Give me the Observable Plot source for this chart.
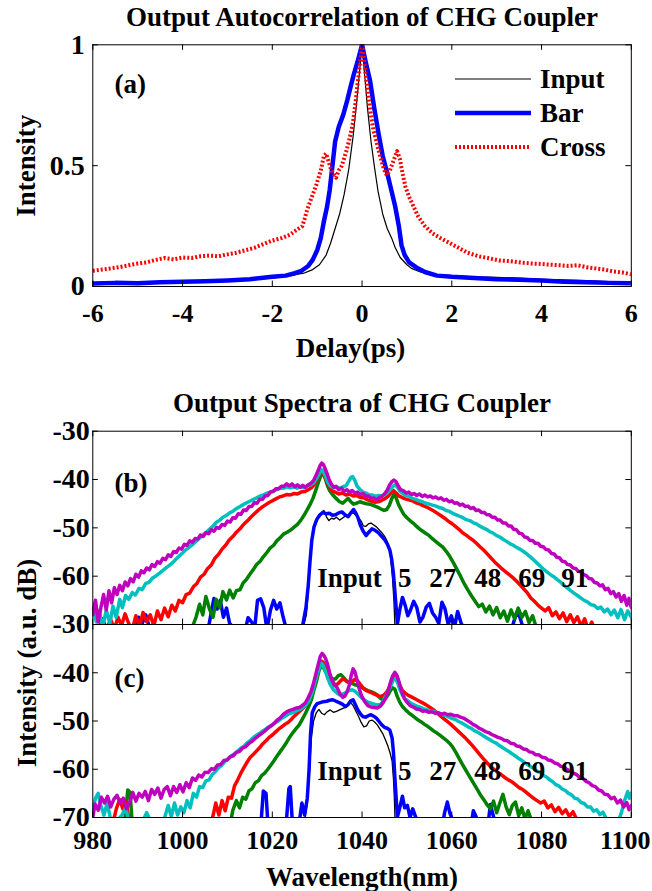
<!DOCTYPE html>
<html><head><meta charset="utf-8">
<script src="https://cdn.jsdelivr.net/npm/d3@7"></script>
<script src="https://cdn.jsdelivr.net/npm/@observablehq/plot@0.6"></script>
<style>
html,body{margin:0;padding:0;background:#fff;}
#chart{position:relative;width:652px;height:891px;overflow:hidden;font-family:"Liberation Serif","Times New Roman",serif;font-weight:bold;color:#000;}
.legend{position:absolute;left:455px;top:62px;}
.legend .row{display:flex;align-items:center;height:34px;}
.legend .row span{font-size:27px;margin-left:9px;line-height:34px;}
.legend svg{display:block;}
</style></head>
<body><div id="chart"></div>
<script>
// ---------- Panel (a): autocorrelation ----------
const acTitle = "Output Autocorrelation of CHG Coupler";
const acXLabel = "Delay(ps)";
const acYLabel = "Intensity";
const acXTicks = [-6, -4, -2, 0, 2, 4, 6];
const acYTicks = [0, 0.5, 1];
const acSeriesNames = ["Input", "Bar", "Cross"];
const acInput = [[-6,0.015],[-5,0.018],[-4,0.02],[-3,0.025],[-2.5,0.03],[-2,0.035],[-1.6,0.045],[-1.3,0.055],[-1.1,0.07],[-0.95,0.09],[-0.8,0.13],[-0.7,0.18],[-0.6,0.24],[-0.5,0.3],[-0.4,0.38],[-0.3,0.48],[-0.2,0.62],[-0.12,0.76],[-0.06,0.88],[0,1.0],[0.06,0.87],[0.12,0.74],[0.2,0.6],[0.28,0.49],[0.36,0.39],[0.46,0.3],[0.56,0.24],[0.66,0.2],[0.74,0.16],[0.85,0.12],[1.0,0.09],[1.1,0.075],[1.3,0.06],[1.6,0.05],[2,0.045],[2.5,0.04],[3,0.038],[3.5,0.035],[4,0.03],[4.5,0.027],[5,0.024],[5.5,0.02],[6,0.018]];
const acBar = [[-6,0.012],[-5.5,0.015],[-5,0.013],[-4.5,0.018],[-4,0.02],[-3.5,0.022],[-3,0.025],[-2.5,0.03],[-2,0.04],[-1.7,0.045],[-1.5,0.055],[-1.35,0.065],[-1.2,0.085],[-1.1,0.11],[-1.0,0.15],[-0.92,0.2],[-0.85,0.27],[-0.78,0.33],[-0.72,0.4],[-0.66,0.5],[-0.6,0.6],[-0.52,0.66],[-0.42,0.71],[-0.33,0.77],[-0.25,0.83],[-0.18,0.88],[-0.1,0.93],[0,1.0],[0.08,0.93],[0.18,0.85],[0.27,0.74],[0.37,0.63],[0.46,0.54],[0.56,0.47],[0.65,0.4],[0.74,0.33],[0.82,0.25],[0.88,0.17],[0.95,0.13],[1.05,0.1],[1.2,0.08],[1.4,0.06],[1.67,0.045],[2,0.04],[2.5,0.035],[3,0.03],[3.5,0.028],[4,0.025],[4.5,0.02],[5,0.018],[5.5,0.015],[6,0.013]];
const acCross = [[-6,0.065],[-5.8,0.07],[-5.6,0.075],[-5.4,0.08],[-5.2,0.088],[-5,0.095],[-4.8,0.1],[-4.6,0.11],[-4.4,0.118],[-4.2,0.112],[-4,0.12],[-3.8,0.118],[-3.6,0.125],[-3.4,0.128],[-3.2,0.125],[-3,0.133],[-2.8,0.14],[-2.6,0.15],[-2.4,0.16],[-2.2,0.175],[-2,0.19],[-1.8,0.2],[-1.6,0.215],[-1.45,0.235],[-1.33,0.25],[-1.28,0.28],[-1.22,0.32],[-1.12,0.37],[-1.02,0.42],[-0.92,0.48],[-0.85,0.54],[-0.8,0.55],[-0.75,0.52],[-0.7,0.49],[-0.65,0.47],[-0.58,0.45],[-0.52,0.48],[-0.45,0.5],[-0.35,0.56],[-0.28,0.61],[-0.2,0.68],[-0.14,0.77],[-0.08,0.87],[-0.03,0.95],[0,1.0],[0.04,0.95],[0.08,0.88],[0.13,0.8],[0.18,0.73],[0.25,0.65],[0.32,0.6],[0.4,0.54],[0.48,0.49],[0.55,0.46],[0.62,0.48],[0.7,0.52],[0.78,0.56],[0.84,0.53],[0.9,0.47],[0.97,0.41],[1.05,0.37],[1.15,0.33],[1.25,0.29],[1.4,0.25],[1.57,0.22],[1.75,0.2],[1.95,0.18],[2.15,0.16],[2.35,0.14],[2.6,0.125],[2.8,0.118],[3.05,0.108],[3.3,0.105],[3.6,0.098],[3.8,0.095],[4,0.093],[4.2,0.09],[4.4,0.088],[4.6,0.085],[4.8,0.088],[5,0.08],[5.2,0.075],[5.4,0.07],[5.6,0.062],[5.8,0.058],[6,0.05]];

// ---------- Panels (b),(c): spectra ----------
const spTitle = "Output Spectra of CHG Coupler";
const spXLabel = "Wavelength(nm)";
const spYLabel = "Intensity (a.u. dB)";
const spXTicks = [980, 1000, 1020, 1040, 1060, 1080];
const spXTickLast = [1100];
const spYTicksB = [-30, -40, -50, -60];
const spYTicksC = [-30, -40, -50, -60, -70];
const spLabels = ["Input", "5", "27", "48", "69", "91"];
const spLabelX = [1037.2, 1049.5, 1058, 1068, 1077.8, 1087.4];
const spLabelY = -60.5;

const bIn = [[1026.5,-72],[1027.6,-68],[1028.1,-62],[1028.5,-56.5],[1028.9,-52.3],[1029.4,-49.6],[1030,-48],[1030.5,-47.8],[1031,-46.8],[1031.5,-46.4],[1032.1,-47.8],[1032.6,-48.5],[1033.2,-48],[1033.7,-48.2],[1034.3,-47.8],[1035,-48.4],[1035.6,-48],[1036.2,-47.6],[1036.8,-47.4],[1037.4,-47.1],[1038,-46.9],[1038.6,-47.4],[1039.2,-47.9],[1039.8,-48.6],[1040.3,-49.6],[1040.8,-49.7],[1041.4,-49.2],[1042,-49],[1042.6,-49.4],[1043.2,-49.8],[1043.8,-50.4],[1044.4,-51],[1045,-51.7],[1045.5,-52.6],[1046,-53.8],[1046.4,-56.4],[1046.8,-60.5],[1047.1,-65],[1047.4,-72]];
const b5 = [[980,-72],[981.5,-70.5],[982.2,-68.8],[983,-71],[989.5,-71],[990.2,-68.5],[991,-69.8],[991.8,-68],[992.6,-70.5],[993.5,-72],[1005.5,-72],[1006.3,-68],[1007,-64.6],[1007.7,-66.8],[1008.4,-65],[1009.1,-68.5],[1009.8,-66.6],[1010.5,-69.8],[1011.2,-70.5],[1012,-72],[1014,-71],[1014.6,-68.6],[1015.4,-69.5],[1016.1,-70.5],[1016.7,-65],[1017.4,-64.7],[1018.1,-66.5],[1018.8,-71],[1019.6,-67],[1020.3,-65],[1021,-66.8],[1021.7,-65.5],[1022.4,-68.4],[1023,-70.5],[1024,-72],[1026,-72],[1026.8,-70],[1027.5,-66.5],[1028,-62],[1028.4,-57],[1028.8,-52.6],[1029.3,-49.8],[1029.9,-48.3],[1030.6,-47.3],[1031.3,-46.8],[1032,-47.1],[1032.7,-47],[1033.4,-47.4],[1034.1,-47.3],[1034.8,-46.9],[1035.5,-46.7],[1036.2,-47.3],[1036.9,-47.7],[1037.5,-46.9],[1038.1,-46.2],[1038.6,-46.9],[1039.1,-47.9],[1039.6,-49.4],[1040.2,-50.6],[1040.9,-51.6],[1041.5,-50.9],[1042.2,-50.2],[1042.9,-50.5],[1043.6,-51],[1044.3,-51.7],[1045,-52.4],[1045.6,-53.3],[1046.2,-54.6],[1046.6,-56.5],[1047,-59.5],[1047.3,-63],[1047.6,-66.5],[1047.9,-69.8],[1048.4,-67],[1049,-64.4],[1049.6,-66],[1050.2,-68.2],[1050.8,-67],[1051.5,-65.2],[1052.2,-66.5],[1052.9,-69.5],[1053.6,-68.4],[1054.3,-66.4],[1055,-65.6],[1055.7,-67.6],[1056.4,-68.5],[1057.1,-69.8],[1057.8,-65.4],[1058.5,-66.8],[1059.2,-70],[1059.9,-68.2],[1060.6,-70.5],[1061.3,-67.3],[1062,-69.5],[1062.7,-71],[1064,-72],[1073,-72],[1073.8,-69.5],[1074.5,-67.4],[1075.2,-68.6],[1076,-71],[1077,-72]];
const b27 = [[1002,-71],[1003,-68.5],[1003.8,-65.8],[1004.5,-68],[1005.2,-64.2],[1006,-66.8],[1006.8,-68.5],[1007.5,-64.8],[1008.3,-66.5],[1009,-63.2],[1009.8,-64.9],[1010.5,-62.9],[1011.3,-64.5],[1012,-63],[1012.8,-62.8],[1013.5,-61.4],[1014.3,-60.6],[1015,-59.6],[1015.8,-58.6],[1016.5,-57.6],[1017.3,-56.9],[1018,-56],[1018.8,-55.1],[1019.5,-54.2],[1020.3,-53.6],[1021,-52.7],[1021.8,-52],[1022.5,-51.3],[1023.3,-50.9],[1024,-50.5],[1024.8,-49.9],[1025.6,-49.3],[1026.3,-48.5],[1027,-47.5],[1027.7,-46.4],[1028.4,-45.2],[1029.1,-43.8],[1029.7,-42.2],[1030.3,-40.5],[1030.8,-39.3],[1031.3,-38.6],[1031.8,-39.8],[1032.3,-41.3],[1032.8,-42.3],[1033.5,-43.2],[1034.2,-43.9],[1035,-44.6],[1035.7,-44.9],[1036.3,-44.4],[1036.9,-43.9],[1037.5,-44.6],[1038.1,-45.1],[1038.8,-44.9],[1039.5,-44.6],[1040.2,-44.8],[1041,-45],[1041.8,-45.1],[1042.6,-45.4],[1043.4,-45.7],[1044.2,-46.1],[1044.9,-46.4],[1045.5,-46.2],[1046.1,-45.3],[1046.6,-44],[1047.1,-43.1],[1047.6,-43.8],[1048.1,-45.1],[1048.7,-46.2],[1049.3,-47.2],[1050,-47.9],[1050.8,-48.6],[1051.6,-49.2],[1052.4,-49.9],[1053.2,-50.5],[1054,-51],[1054.8,-51.5],[1055.6,-52.2],[1056.4,-52.8],[1057.2,-53.4],[1058,-54],[1058.8,-54.9],[1059.6,-56],[1060.4,-57.3],[1061.2,-58.7],[1062,-60.1],[1062.8,-61.6],[1063.6,-62.9],[1064.4,-64.1],[1065.2,-65.2],[1066,-66.3],[1066.8,-65.8],[1067.6,-67.4],[1068.4,-66.2],[1069.2,-68],[1070,-66.5],[1070.8,-68.6],[1071.6,-67.2],[1072.4,-69.3],[1073.2,-67],[1074,-68.8],[1074.8,-66.6],[1075.6,-68.5],[1076.4,-67.3],[1077.2,-69.6],[1078,-68.2],[1078.8,-70.5],[1080,-72]];
const b48 = [[980,-67.5],[980.5,-65.6],[981.2,-68.2],[982,-70.5],[983,-71],[984,-69],[984.8,-71],[985.6,-68.5],[986.4,-70.2],[987.2,-67.8],[988,-69.8],[988.8,-71],[989.6,-68.2],[990.4,-70.5],[991.2,-67.5],[992,-69.4],[992.8,-68],[993.6,-70.3],[994.4,-67.2],[995.2,-69],[996,-66.6],[996.8,-68.4],[997.6,-66],[998.4,-67.2],[999.2,-65],[1000,-65.5],[1000.8,-63.8],[1001.6,-63.5],[1002.4,-62.2],[1003.2,-61.5],[1004,-60.2],[1004.8,-59.6],[1005.6,-58.4],[1006.4,-57.7],[1007.2,-56.3],[1008,-55.5],[1008.8,-54.4],[1009.6,-53.6],[1010.4,-52.5],[1011.2,-51.8],[1012,-50.9],[1012.8,-50.2],[1013.6,-49.3],[1014.4,-48.6],[1015.2,-47.8],[1016,-47.1],[1016.8,-46.4],[1017.6,-45.8],[1018.4,-45.3],[1019.2,-44.8],[1020,-44.4],[1020.8,-44],[1021.6,-43.6],[1022.4,-43.4],[1023.2,-43.1],[1024,-43.2],[1024.8,-42.9],[1025.6,-43],[1026.4,-42.6],[1027.2,-42.5],[1028,-42.1],[1028.7,-41.7],[1029.3,-41.1],[1029.9,-40],[1030.5,-38.9],[1031,-38.4],[1031.5,-38.9],[1032,-40],[1032.6,-41.3],[1033.3,-42.3],[1034,-42.6],[1034.8,-43],[1035.6,-42.8],[1036.4,-43.2],[1037.2,-43],[1038,-43.4],[1038.8,-43.3],[1039.6,-43.7],[1040.4,-43.8],[1041.2,-44.2],[1042,-44.4],[1042.8,-44.7],[1043.6,-44.6],[1044.4,-44.3],[1045.2,-43.9],[1045.9,-43.4],[1046.5,-42.7],[1047,-42.3],[1047.6,-42.8],[1048.2,-43.4],[1048.9,-43.7],[1049.6,-44],[1050.4,-44.2],[1051.2,-44.4],[1052,-44.8],[1052.8,-45],[1053.6,-45.4],[1054.4,-45.7],[1055.2,-46.1],[1056,-46.5],[1056.8,-47],[1057.6,-47.5],[1058.4,-48],[1059.2,-48.6],[1060,-49.1],[1060.8,-49.7],[1061.6,-50.3],[1062.4,-51],[1063.2,-51.5],[1064,-52.1],[1064.8,-52.6],[1065.6,-53.3],[1066.4,-54],[1067.2,-54.7],[1068,-55.5],[1068.8,-56.3],[1069.6,-57.1],[1070.4,-57.8],[1071.2,-58.5],[1072,-59.1],[1072.8,-59.7],[1073.6,-60.3],[1074.4,-61],[1075.2,-61.8],[1076,-62.6],[1076.8,-63.4],[1077.6,-64.5],[1078.4,-65.2],[1079.2,-66],[1080,-66.6],[1080.8,-67.2],[1081.6,-66.5],[1082.4,-68.2],[1083.2,-67.4],[1084,-68.8],[1084.8,-67.6],[1085.6,-69.4],[1086.4,-68],[1087.2,-69.6],[1088,-68.4],[1088.8,-70.3],[1089.6,-68.8],[1090.4,-71],[1091.2,-69.5],[1092,-71.5],[1093,-72]];
const b69 = [[980,-66.5],[980.8,-69.5],[981.5,-67.5],[982.2,-70.5],[983,-67],[983.8,-69.8],[984.5,-66.2],[985.2,-68.5],[986,-64.8],[986.6,-66.5],[987.3,-64],[988,-64.8],[988.8,-63.4],[989.5,-63.9],[990.3,-62.5],[991,-62.8],[991.8,-61.5],[992.5,-61.3],[993.3,-60.4],[994,-60],[994.8,-59.4],[995.5,-58.9],[996.3,-58.3],[997,-57.8],[997.8,-57.2],[998.5,-56.5],[999.3,-55.8],[1000,-55.2],[1000.8,-54.5],[1001.5,-54],[1002.3,-53.4],[1003,-52.8],[1003.8,-52.1],[1004.5,-51.5],[1005.3,-50.9],[1006,-50.3],[1006.8,-49.6],[1007.5,-48.9],[1008.3,-48.4],[1009,-47.8],[1009.8,-47.4],[1010.5,-46.9],[1011.3,-46.5],[1012,-46],[1012.8,-45.6],[1013.5,-45.2],[1014.3,-44.8],[1015,-44.5],[1015.8,-44.1],[1016.5,-43.8],[1017.3,-43.4],[1018,-43.2],[1018.8,-42.8],[1019.5,-42.6],[1020.3,-42.3],[1021,-42.1],[1021.8,-41.8],[1022.5,-41.8],[1023.3,-41.5],[1024,-41.7],[1024.8,-41.5],[1025.5,-41.8],[1026.3,-41.5],[1027,-41.7],[1027.8,-41.3],[1028.6,-41.1],[1029.2,-40.7],[1029.8,-39.9],[1030.4,-38.9],[1030.9,-37.9],[1031.3,-38.2],[1031.8,-39.2],[1032.3,-40.4],[1032.9,-41.3],[1033.6,-41.7],[1034.3,-41.5],[1035,-41.8],[1035.7,-41.5],[1036.4,-41.3],[1037,-40.4],[1037.5,-39.6],[1037.9,-39.4],[1038.4,-40.2],[1038.9,-41.4],[1039.5,-42],[1040.2,-42.6],[1040.9,-42.8],[1041.6,-43.2],[1042.3,-43.2],[1043,-43.5],[1043.7,-43.3],[1044.4,-43.4],[1045.1,-43.1],[1045.7,-42.6],[1046.3,-42.1],[1046.9,-41.4],[1047.4,-41.1],[1047.9,-41.6],[1048.5,-42.5],[1049.1,-42.9],[1049.8,-43.3],[1050.5,-43.5],[1051.2,-43.9],[1052,-44.1],[1052.7,-44.4],[1053.5,-44.6],[1054.2,-44.9],[1055,-45.1],[1055.7,-45.3],[1056.5,-45.5],[1057.2,-45.8],[1058,-46],[1058.7,-46.4],[1059.5,-46.6],[1060.2,-47],[1061,-47.3],[1061.7,-47.6],[1062.5,-47.9],[1063.2,-48.3],[1064,-48.5],[1064.7,-48.9],[1065.5,-49.2],[1066.2,-49.6],[1067,-50],[1067.7,-50.3],[1068.5,-50.8],[1069.2,-51.1],[1070,-51.6],[1070.7,-51.9],[1071.5,-52.4],[1072.2,-52.8],[1073,-53.3],[1073.7,-53.6],[1074.5,-54.1],[1075.2,-54.4],[1076,-54.9],[1076.7,-55.4],[1077.5,-56],[1078.2,-56.6],[1079,-57.3],[1079.7,-57.9],[1080.5,-58.6],[1081.2,-59.1],[1082,-59.7],[1082.7,-60.1],[1083.5,-60.7],[1084.2,-61.2],[1085,-61.9],[1085.7,-62.4],[1086.5,-63],[1087.2,-63.5],[1088,-64],[1088.7,-64.5],[1089.5,-65],[1090.2,-65.3],[1091,-65.9],[1091.7,-66],[1092.5,-66.7],[1093.2,-66.4],[1094,-67.4],[1094.7,-66.8],[1095.5,-68],[1096.2,-67],[1097,-68.6],[1097.7,-66.9],[1098.5,-69],[1099.2,-67.2],[1100,-68.5]];
const b91 = [[980,-68],[980.6,-65],[981.2,-69.5],[981.8,-66.5],[982.4,-63.8],[983,-67],[983.6,-63],[984.2,-65.5],[984.8,-62.4],[985.4,-63.8],[986,-61.9],[986.6,-63],[987.2,-61.2],[987.8,-62],[988.4,-60.5],[989,-61.2],[989.6,-59.6],[990.2,-60.2],[990.8,-58.9],[991.4,-59.3],[992,-58.3],[992.6,-58.7],[993.2,-57.6],[993.8,-58],[994.4,-57],[995,-57.3],[995.6,-56.3],[996.2,-56.6],[996.8,-55.6],[997.4,-55.9],[998,-54.9],[998.6,-55.1],[999.2,-54.2],[999.8,-54.4],[1000.4,-53.4],[1001,-53.6],[1001.6,-52.7],[1002.2,-53],[1002.8,-52.2],[1003.4,-52.3],[1004,-51.5],[1004.6,-51.8],[1005.2,-51],[1005.8,-51.2],[1006.4,-50.4],[1007,-50.7],[1007.6,-49.9],[1008.2,-50.1],[1008.8,-49.3],[1009.4,-49.5],[1010,-48.6],[1010.6,-48.8],[1011.2,-47.9],[1011.8,-48],[1012.4,-47.1],[1013,-47.2],[1013.6,-46.3],[1014.2,-46.4],[1014.8,-45.6],[1015.4,-45.6],[1016,-44.8],[1016.6,-44.9],[1017.2,-44.1],[1017.8,-44.1],[1018.4,-43.4],[1019,-43.3],[1019.6,-42.6],[1020.2,-42.5],[1020.8,-41.9],[1021.4,-41.9],[1022,-41.4],[1022.6,-41.4],[1023.2,-40.9],[1023.8,-41.3],[1024.4,-40.9],[1025,-41.5],[1025.6,-41.1],[1026.2,-41.6],[1026.8,-41.2],[1027.4,-41.6],[1028,-41.1],[1028.6,-40.8],[1029.2,-40.2],[1029.7,-39.2],[1030.2,-38.2],[1030.6,-37.2],[1031,-36.6],[1031.4,-36.9],[1031.8,-37.8],[1032.2,-38.8],[1032.7,-40.1],[1033.2,-41],[1033.7,-41.6],[1034.2,-41.4],[1034.8,-42.1],[1035.4,-41.8],[1036,-42.4],[1036.6,-42.1],[1037.2,-42.6],[1037.8,-42.3],[1038.4,-42.8],[1039,-42.6],[1039.6,-43.1],[1040.2,-42.9],[1040.8,-43.5],[1041.4,-43.4],[1042,-43.9],[1042.6,-43.8],[1043.2,-44.2],[1043.8,-43.8],[1044.4,-43.5],[1045,-43],[1045.6,-42.2],[1046.1,-41.2],[1046.6,-40.5],[1047.1,-40.1],[1047.6,-40.5],[1048.1,-41.4],[1048.6,-42.1],[1049.2,-42.3],[1049.8,-42.8],[1050.4,-42.6],[1051,-43.1],[1051.6,-42.9],[1052.2,-43.3],[1052.8,-43],[1053.4,-43.5],[1054,-43.2],[1054.6,-43.6],[1055.2,-43.4],[1055.8,-43.8],[1056.4,-43.6],[1057,-44],[1057.6,-43.8],[1058.2,-44.3],[1058.8,-44.1],[1059.4,-44.6],[1060,-44.4],[1060.6,-44.9],[1061.2,-44.8],[1061.8,-45.3],[1062.4,-45.1],[1063,-45.6],[1063.6,-45.5],[1064.2,-46],[1064.8,-45.8],[1065.4,-46.4],[1066,-46.3],[1066.6,-46.8],[1067.2,-46.8],[1067.8,-47.3],[1068.4,-47.3],[1069,-47.8],[1069.6,-47.8],[1070.2,-48.4],[1070.8,-48.4],[1071.4,-49],[1072,-49],[1072.6,-49.6],[1073.2,-49.6],[1073.8,-50.3],[1074.4,-50.4],[1075,-51.1],[1075.6,-51.2],[1076.2,-51.9],[1076.8,-52],[1077.4,-52.6],[1078,-52.6],[1078.6,-53.2],[1079.2,-53.2],[1079.8,-53.8],[1080.4,-53.9],[1081,-54.5],[1081.6,-54.6],[1082.2,-55.3],[1082.8,-55.4],[1083.4,-56.1],[1084,-56.2],[1084.6,-56.9],[1085.2,-57],[1085.8,-57.6],[1086.4,-57.7],[1087,-58.3],[1087.6,-58.4],[1088.2,-59],[1088.8,-59.1],[1089.4,-59.7],[1090,-59.9],[1090.6,-60.5],[1091.2,-60.6],[1091.8,-61.3],[1092.4,-61.4],[1093,-62],[1093.6,-61.8],[1094.2,-62.8],[1094.8,-62.5],[1095.4,-63.6],[1096,-63.2],[1096.6,-64.3],[1097.2,-63.6],[1097.8,-65.2],[1098.4,-64],[1099,-66],[1099.5,-64.6],[1100,-66.5]];

const cIn = [[1027,-72],[1027.8,-67],[1028.3,-60],[1028.7,-53.5],[1029.2,-50],[1029.8,-48.3],[1030.4,-47.6],[1031,-48.4],[1031.6,-48.7],[1032.2,-48.1],[1032.9,-47.7],[1033.6,-48.2],[1034.3,-48],[1035,-47.7],[1035.7,-47.4],[1036.4,-47.2],[1037,-46.6],[1037.5,-46.2],[1038,-46.8],[1038.6,-47.9],[1039.2,-49],[1039.8,-50.3],[1040.4,-51.2],[1041,-51],[1041.6,-50],[1042.2,-49.8],[1042.8,-50.2],[1043.4,-50.8],[1044,-51.7],[1044.6,-52.6],[1045.2,-53.9],[1045.8,-55.3],[1046.3,-56.8],[1046.7,-58.3],[1047,-62],[1047.2,-66],[1047.4,-72]];
const c5 = [[1016,-72],[1017.5,-71],[1018,-64.5],[1018.6,-65],[1019,-71],[1019.5,-72],[1022.5,-72],[1023.2,-70],[1023.7,-64],[1024,-63.6],[1024.4,-70],[1025,-72],[1026,-71],[1026.6,-67],[1027.2,-69.5],[1027.8,-66],[1028.2,-60],[1028.5,-53],[1028.9,-48.3],[1029.5,-47],[1030,-46.4],[1030.7,-46.2],[1031.4,-46],[1032.1,-45.9],[1032.8,-45.7],[1033.5,-45.6],[1034.2,-45.9],[1034.9,-46.2],[1035.6,-46.5],[1036.3,-47],[1036.9,-46.6],[1037.5,-45.8],[1038,-45.6],[1038.5,-46.6],[1039,-47.6],[1039.6,-48.5],[1040.2,-49.1],[1040.8,-49.2],[1041.4,-48.9],[1042,-48.7],[1042.6,-49],[1043.2,-49.4],[1043.8,-50.1],[1044.4,-50.8],[1045,-51.3],[1045.6,-51.5],[1046.2,-51.9],[1046.7,-53.5],[1047,-56.5],[1047.3,-61.5],[1047.6,-66],[1047.9,-69.8],[1048.4,-68],[1049,-65.6],[1049.5,-68],[1050.1,-67.5],[1050.7,-70],[1051.3,-68.2],[1051.9,-69.8],[1052.5,-71],[1054,-72],[1057.8,-72],[1058.4,-69],[1059,-66.8],[1059.6,-69.2],[1060.2,-70.5],[1061,-72],[1064.2,-72],[1064.8,-68.6],[1065.4,-69.8],[1066,-72],[1068,-72],[1068.6,-67.3],[1069.2,-69.5],[1070,-72]];
const c27 = [[987,-72],[987.4,-68],[987.8,-64.3],[988.3,-64.8],[988.7,-70],[989.2,-72],[1010.5,-72],[1011.2,-68.5],[1012,-66.5],[1012.7,-68],[1013.4,-65.8],[1014.1,-66.2],[1014.8,-64.5],[1015.5,-64],[1016.2,-62.8],[1016.9,-62.4],[1017.6,-61.3],[1018.3,-60.8],[1019,-60],[1019.7,-59.1],[1020.4,-58.2],[1021.1,-57.2],[1021.8,-56.3],[1022.5,-55.4],[1023.2,-54.4],[1023.9,-53.3],[1024.6,-52.4],[1025.3,-51.6],[1026,-50.8],[1026.7,-49.6],[1027.4,-48.4],[1028.1,-47],[1028.7,-45.6],[1029.3,-43.5],[1029.9,-41.6],[1030.4,-39.6],[1030.9,-38.3],[1031.3,-38.7],[1031.8,-39.7],[1032.3,-40.3],[1032.9,-41],[1033.5,-41.3],[1034.1,-41.3],[1034.7,-40.6],[1035.3,-40.4],[1035.9,-41],[1036.5,-41.7],[1037.1,-41.9],[1037.8,-42.2],[1038.5,-42.5],[1039.2,-42.7],[1039.9,-43],[1040.6,-43.4],[1041.3,-43.7],[1042,-43.9],[1042.7,-44.2],[1043.4,-44.6],[1044,-45.2],[1044.6,-45.6],[1045.2,-45.3],[1045.8,-44.6],[1046.3,-43.7],[1046.8,-43.1],[1047.3,-43.4],[1047.8,-44.8],[1048.4,-46.1],[1049,-47],[1049.7,-47.7],[1050.4,-48.3],[1051.1,-48.8],[1051.8,-49.3],[1052.5,-49.8],[1053.2,-50.2],[1053.9,-50.7],[1054.6,-51.1],[1055.3,-51.6],[1056,-52.1],[1056.7,-52.5],[1057.4,-53],[1058.1,-53.5],[1058.8,-54],[1059.5,-54.6],[1060.2,-55.4],[1060.9,-56.5],[1061.6,-57.7],[1062.3,-58.9],[1063,-60],[1063.7,-61.1],[1064.4,-62.2],[1065.1,-63.3],[1065.8,-64.4],[1066.5,-65.5],[1067.2,-66.4],[1067.9,-67.4],[1068.6,-68.2],[1069.3,-66.6],[1070,-69],[1070.7,-67],[1071.4,-65.2],[1072.1,-67.8],[1072.8,-69.4],[1073.5,-67.5],[1074.2,-66.8],[1074.9,-69.6],[1075.6,-68],[1076.3,-70.3],[1077,-68.6],[1077.7,-70.5],[1078.5,-72]];
const c48 = [[984.5,-71],[985.3,-68],[986,-66.3],[986.7,-68.2],[987.4,-66.8],[988,-70],[988.6,-72],[1006,-72],[1006.7,-70],[1007.4,-67],[1008.1,-69.5],[1008.8,-66.5],[1009.5,-68.6],[1010.2,-65.8],[1010.9,-66],[1011.6,-63.4],[1012.3,-62.2],[1013,-60.8],[1013.7,-59.6],[1014.4,-58.5],[1015.1,-57.5],[1015.8,-56.9],[1016.5,-56.2],[1017.2,-55.5],[1017.9,-54.7],[1018.6,-54.1],[1019.3,-53.4],[1020,-52.9],[1020.7,-52.3],[1021.4,-51.7],[1022.1,-51.2],[1022.8,-50.7],[1023.5,-50.3],[1024.2,-49.7],[1024.9,-49],[1025.6,-48.4],[1026.3,-47.8],[1027,-47.2],[1027.7,-46.5],[1028.3,-45.4],[1028.9,-43.6],[1029.5,-41.8],[1030,-40.3],[1030.5,-38.7],[1031,-37.6],[1031.4,-37.9],[1031.9,-39.1],[1032.4,-40.6],[1033,-41.9],[1033.6,-42.7],[1034.2,-42.6],[1034.8,-42.1],[1035.4,-41.5],[1036,-41.3],[1036.6,-41.8],[1037.2,-42.1],[1037.8,-41.8],[1038.4,-41.4],[1039,-41.7],[1039.6,-42.4],[1040.2,-43.1],[1040.8,-43.6],[1041.5,-43.9],[1042.2,-44.2],[1042.9,-44.5],[1043.6,-44.8],[1044.3,-44.9],[1044.9,-44.6],[1045.5,-44],[1046,-43.2],[1046.5,-41.9],[1047,-40.7],[1047.4,-40.3],[1047.9,-41.2],[1048.4,-42.6],[1049,-43.7],[1049.6,-44.2],[1050.3,-44.7],[1051,-45],[1051.8,-45.4],[1052.6,-45.8],[1053.4,-46.2],[1054.2,-46.6],[1055,-47.1],[1055.8,-47.6],[1056.6,-48.2],[1057.4,-48.9],[1058.2,-49.5],[1059,-50.1],[1059.8,-50.7],[1060.6,-51.4],[1061.4,-52.1],[1062.2,-52.8],[1063,-53.5],[1063.8,-54.3],[1064.6,-55.1],[1065.4,-56],[1066.2,-56.9],[1067,-57.8],[1067.8,-58.6],[1068.6,-59.4],[1069.4,-60],[1070.2,-60.6],[1071,-61.1],[1071.8,-61.7],[1072.6,-62.2],[1073.4,-62.6],[1074.2,-63.2],[1075,-63.8],[1075.8,-64.2],[1076.6,-64.8],[1077.4,-65.4],[1078.2,-66],[1079,-66.5],[1079.8,-67],[1080.6,-66.6],[1081.4,-68],[1082.2,-67.4],[1083,-68.8],[1083.8,-67.9],[1084.6,-69.2],[1085.4,-68.4],[1086.2,-69.8],[1087,-68.8],[1087.8,-70.3],[1088.6,-72]];
const c69 = [[980,-68.4],[980.6,-66],[981.2,-65],[981.8,-67.6],[982.5,-69.5],[983.2,-67],[984,-70.5],[985,-71],[986.5,-69.5],[987.3,-68],[988,-70.5],[989,-71],[991,-71],[992,-69],[993,-71],[995,-71],[996,-70],[996.8,-67.5],[997.5,-69.8],[998.2,-67],[998.9,-69.5],[999.6,-67.8],[1000.3,-69],[1001,-66.5],[1001.7,-68],[1002.4,-65],[1003.1,-65.8],[1003.8,-63.6],[1004.5,-63.8],[1005.2,-62.4],[1005.9,-62.2],[1006.6,-61.1],[1007.3,-60.5],[1008,-59.7],[1008.7,-59.2],[1009.4,-58.4],[1010.1,-57.9],[1010.8,-57.3],[1011.5,-56.8],[1012.2,-56.3],[1012.9,-55.7],[1013.6,-55.3],[1014.3,-54.6],[1015,-54.1],[1015.7,-53.5],[1016.4,-53],[1017.1,-52.6],[1017.8,-52.1],[1018.5,-51.7],[1019.2,-51.2],[1019.9,-50.9],[1020.6,-50.4],[1021.3,-50],[1022,-49.5],[1022.7,-49.1],[1023.4,-48.7],[1024.1,-48.4],[1024.8,-48.2],[1025.5,-47.8],[1026.2,-47.6],[1026.9,-47.1],[1027.6,-46.6],[1028.2,-45.7],[1028.8,-44.3],[1029.4,-42.4],[1030,-40.3],[1030.5,-38.9],[1030.9,-38],[1031.3,-38.4],[1031.8,-39.6],[1032.3,-41],[1032.9,-42.4],[1033.6,-43.5],[1034.3,-44.1],[1035,-44.6],[1035.7,-44.4],[1036.4,-44.1],[1037.1,-43.7],[1037.8,-43.5],[1038.5,-43.9],[1039.2,-44.5],[1039.9,-45.2],[1040.6,-45.7],[1041.3,-46.1],[1042,-46.3],[1042.7,-46.5],[1043.4,-46.7],[1044.1,-46.6],[1044.7,-45.9],[1045.3,-44.8],[1045.8,-43.8],[1046.3,-42.9],[1046.9,-41.6],[1047.4,-41.2],[1047.9,-42],[1048.4,-43.4],[1049,-44.6],[1049.6,-45.4],[1050.3,-45.9],[1051,-46.4],[1051.7,-46.7],[1052.4,-47],[1053.1,-47.2],[1053.8,-47.5],[1054.5,-47.7],[1055.2,-47.9],[1055.9,-48],[1056.6,-48.3],[1057.3,-48.4],[1058,-48.7],[1058.7,-48.9],[1059.4,-49.2],[1060.1,-49.5],[1060.8,-49.7],[1061.5,-50.1],[1062.2,-50.4],[1062.9,-50.8],[1063.6,-51.2],[1064.3,-51.5],[1065,-52],[1065.7,-52.3],[1066.4,-52.7],[1067.1,-53.1],[1067.8,-53.5],[1068.5,-53.9],[1069.2,-54.3],[1069.9,-54.6],[1070.6,-55.1],[1071.3,-55.5],[1072,-55.9],[1072.7,-56.3],[1073.4,-56.8],[1074.1,-57.2],[1074.8,-57.7],[1075.5,-58.1],[1076.2,-58.6],[1076.9,-59],[1077.6,-59.5],[1078.3,-59.8],[1079,-60.4],[1079.7,-60.7],[1080.4,-61.3],[1081.1,-61.6],[1081.8,-62.2],[1082.5,-62.6],[1083.2,-63.2],[1083.9,-63.5],[1084.6,-64.1],[1085.3,-64.4],[1086,-65],[1086.7,-65.3],[1087.4,-66],[1088.1,-66.2],[1088.8,-66.9],[1089.5,-67.1],[1090.2,-67.8],[1090.9,-67.8],[1091.6,-68.7],[1092.3,-68.4],[1093,-69.4],[1093.7,-68.9],[1094.4,-70.2],[1095.2,-71],[1097,-71],[1097.8,-69],[1098.5,-66.5],[1099.2,-64.6],[1099.6,-66],[1100,-65]];
const c91 = [[980,-70],[980.5,-67.2],[981.2,-68.5],[981.9,-65.8],[982.6,-67],[983.3,-65.6],[984,-67.8],[984.7,-66.2],[985.4,-65.4],[986.1,-67],[986.8,-66],[987.5,-68.2],[988.2,-67],[988.9,-64.8],[989.6,-66.6],[990.3,-65],[991,-65.8],[991.7,-64.6],[992.4,-66.5],[993.1,-64.2],[993.8,-65.2],[994.5,-63.9],[995.2,-66],[995.9,-64.2],[996.6,-63.6],[997.3,-65.5],[998,-63.6],[998.7,-64.8],[999.4,-63.2],[1000.1,-64.7],[1000.8,-62.8],[1001.5,-63.8],[1002.2,-61.8],[1002.9,-62.3],[1003.6,-61.2],[1004.3,-61.6],[1005,-60.6],[1005.7,-60.7],[1006.4,-59.9],[1007.1,-60],[1007.8,-59.1],[1008.5,-59],[1009.2,-58.2],[1009.9,-58.1],[1010.6,-57.4],[1011.3,-57.2],[1012,-56.5],[1012.7,-56.3],[1013.4,-55.6],[1014.1,-55.3],[1014.8,-54.6],[1015.5,-54.2],[1016.2,-53.6],[1016.9,-53.1],[1017.6,-52.6],[1018.3,-52.1],[1019,-51.5],[1019.7,-51],[1020.4,-50.5],[1021.1,-49.8],[1021.8,-49.3],[1022.5,-48.6],[1023.2,-48.1],[1023.9,-47.8],[1024.6,-47.6],[1025.3,-47.3],[1026,-47.2],[1026.7,-46.8],[1027.4,-46.2],[1028,-45.2],[1028.6,-44],[1029.2,-42.1],[1029.7,-40.3],[1030.2,-38.4],[1030.7,-36.6],[1031.1,-36],[1031.5,-36.4],[1031.9,-37.1],[1032.3,-38.2],[1032.8,-40.1],[1033.3,-41.5],[1033.9,-42.4],[1034.5,-43.2],[1035.1,-44.4],[1035.7,-45.1],[1036.2,-44.8],[1036.7,-43.9],[1037.2,-42.5],[1037.6,-40.5],[1038,-39.2],[1038.4,-39.8],[1038.8,-41.2],[1039.3,-43.1],[1039.9,-44.8],[1040.6,-46],[1041.3,-46.8],[1042,-47.1],[1042.7,-47.2],[1043.4,-47.3],[1044.1,-46.9],[1044.7,-46.2],[1045.3,-45.2],[1045.8,-43.8],[1046.3,-42.1],[1046.8,-40.7],[1047.3,-39.9],[1047.8,-40.6],[1048.3,-42.1],[1048.8,-43.8],[1049.4,-45.3],[1050,-46.1],[1050.7,-46.8],[1051.4,-47.1],[1052.1,-47.5],[1052.8,-47.6],[1053.5,-48],[1054.2,-47.9],[1054.9,-48.2],[1055.6,-48.1],[1056.3,-48.4],[1057,-48.3],[1057.7,-48.6],[1058.4,-48.4],[1059.1,-48.7],[1059.8,-48.6],[1060.5,-48.9],[1061.2,-48.9],[1061.9,-49.2],[1062.6,-49.4],[1063.3,-49.8],[1064,-50.2],[1064.7,-50.7],[1065.4,-51],[1066.1,-51.5],[1066.8,-51.8],[1067.5,-52.2],[1068.2,-52.4],[1068.9,-52.8],[1069.6,-53.1],[1070.3,-53.4],[1071,-53.6],[1071.7,-54],[1072.4,-54.1],[1073.1,-54.6],[1073.8,-54.7],[1074.5,-55.2],[1075.2,-55.3],[1075.9,-55.8],[1076.6,-55.9],[1077.3,-56.4],[1078,-56.5],[1078.7,-57],[1079.4,-57],[1080.1,-57.5],[1080.8,-57.6],[1081.5,-58.1],[1082.2,-58.2],[1082.9,-58.7],[1083.6,-58.9],[1084.3,-59.4],[1085,-59.5],[1085.7,-60.1],[1086.4,-60.3],[1087.1,-60.8],[1087.8,-61.1],[1088.5,-61.7],[1089.2,-61.9],[1089.9,-62.5],[1090.6,-62.8],[1091.3,-63.4],[1092,-63.6],[1092.7,-64.3],[1093.4,-64.5],[1094.1,-65.2],[1094.8,-65.3],[1095.5,-66.1],[1096.2,-65.8],[1096.9,-67],[1097.6,-66.4],[1098.3,-67.8],[1099,-66.9],[1099.5,-68.4],[1100,-67.5]];

const spColors = ["#000000", "#0000ff", "#008000", "#ff0000", "#00bfbf", "#bf00bf"];

// ---------- layout ----------
const W = 652, H = 891;
const mL = 92.3, mR = W - 630.8;
const font = "Liberation Serif, Times New Roman, serif";
const baseStyle = {position: "absolute", left: "0px", top: "0px", background: "transparent", fontFamily: font, fontWeight: "bold", overflow: "visible"};
const TICK = 5.5;
const YTICK_FS = 28, XTICK_FS = 26, LABEL_FS = 27;
const crossDash = "2,2";

function inward(xt, yt, innerW, innerH) {
  return [
    Plot.tickX(xt, {x: d => d, insetTop: innerH - TICK, stroke: "black", strokeWidth: 1}),
    Plot.tickX(xt, {x: d => d, insetBottom: innerH - TICK, stroke: "black", strokeWidth: 1}),
    Plot.tickY(yt, {y: d => d, insetRight: innerW - TICK, stroke: "black", strokeWidth: 1}),
    Plot.tickY(yt, {y: d => d, insetLeft: innerW - TICK, stroke: "black", strokeWidth: 1})
  ];
}
const fmt = d => String(d);
const innerW = W - mL - mR;

// Panel (a)
const aTop = 44.3, aBot = 286;
const plotA = Plot.plot({
  width: W, height: H, marginLeft: mL, marginRight: mR, marginTop: aTop, marginBottom: H - aBot,
  x: {domain: [-6, 6], axis: null},
  y: {domain: [0, 1], axis: null},
  style: baseStyle,
  marks: [
    Plot.line(acInput, {x: d => d[0], y: d => d[1], stroke: "#000", strokeWidth: 1.2, clip: true}),
    Plot.line(acBar, {x: d => d[0], y: d => d[1], stroke: "#0000ff", strokeWidth: 4.5, clip: true}),
    Plot.line(acCross, {x: d => d[0], y: d => d[1], stroke: "#ff0000", strokeWidth: 4, strokeDasharray: crossDash, strokeLinecap: "butt", clip: true}),
    Plot.frame({stroke: "black", strokeWidth: 1}),
    ...inward(acXTicks, acYTicks, innerW, aBot - aTop),
    Plot.axisX({ticks: acXTicks, tickSize: 0, tickPadding: 17, tickFormat: fmt, fontSize: XTICK_FS, label: null}),
    Plot.axisY({ticks: acYTicks, tickSize: 0, tickPadding: 8, tickFormat: fmt, fontSize: YTICK_FS, label: null}),
    Plot.text([acTitle], {frameAnchor: "top", dy: 17 - aTop, fontSize: LABEL_FS, lineAnchor: "middle", textAnchor: "middle"}),
    Plot.text([acXLabel], {frameAnchor: "bottom", dy: 62, dx: -11.5, fontSize: LABEL_FS, lineAnchor: "middle", textAnchor: "middle"}),
    Plot.text([acYLabel], {frameAnchor: "left", dx: 25.5 - mL, rotate: -90, fontSize: LABEL_FS, lineAnchor: "middle", textAnchor: "middle"}),
    Plot.text(["(a)"], {frameAnchor: "top-left", dx: 21.7, dy: 84 - aTop, textAnchor: "start", fontSize: LABEL_FS, lineAnchor: "middle"})
  ]
});

function spectraPanel(top, bot, yTicks, series, tag, extra) {
  return Plot.plot({
    width: W, height: H, marginLeft: mL, marginRight: mR, marginTop: top, marginBottom: H - bot,
    x: {domain: [980, 1100], axis: null},
    y: {domain: [-70, -30], axis: null},
    style: baseStyle,
    marks: [
      ...series.map((s, i) => Plot.line(s, {x: d => d[0], y: d => d[1], stroke: spColors[i], strokeWidth: i === 0 ? 1.3 : 3.5, clip: true})),
      Plot.frame({stroke: "black", strokeWidth: 1}),
      ...inward([...spXTicks, ...spXTickLast], yTicks, innerW, bot - top),
      Plot.axisY({ticks: yTicks, tickSize: 0, tickPadding: 3, tickFormat: fmt, fontSize: YTICK_FS, label: null}),
      Plot.text(spLabels, {x: (d, i) => spLabelX[i], y: () => spLabelY, text: d => d, fontSize: LABEL_FS, lineAnchor: "middle", textAnchor: "middle"}),
      Plot.text([tag], {frameAnchor: "top-left", dx: 21.7, dy: tag === "(b)" ? 52.3 : 54, textAnchor: "start", fontSize: LABEL_FS, lineAnchor: "middle"}),
      ...extra
    ]
  });
}

const bTop = 430.7, bBot = 624, cTop = 624, cBot = 817;
const plotB = spectraPanel(bTop, bBot, spYTicksB, [bIn, b5, b27, b48, b69, b91], "(b)", [
  Plot.text([spTitle], {frameAnchor: "top", dy: 403 - bTop, fontSize: LABEL_FS, lineAnchor: "middle", textAnchor: "middle"})
]);
const plotC = spectraPanel(cTop, cBot, spYTicksC, [cIn, c5, c27, c48, c69, c91], "(c)", [
  Plot.axisX({ticks: spXTicks, tickSize: 0, tickPadding: 13, tickFormat: fmt, fontSize: XTICK_FS, label: null}),
  Plot.axisX({ticks: spXTickLast, tickSize: 0, tickPadding: 13, tickFormat: fmt, fontSize: XTICK_FS, label: null, dx: -6}),
  Plot.text([spXLabel], {frameAnchor: "bottom", dy: 877 - cBot, fontSize: LABEL_FS, lineAnchor: "middle", textAnchor: "middle"}),
  Plot.text([spYLabel], {frameAnchor: "left", dx: 27 - mL, dy: 662.5 - (cTop + cBot) / 2, rotate: -90, fontSize: LABEL_FS, lineAnchor: "middle", textAnchor: "middle"})
]);

const chart = document.getElementById("chart");
chart.append(plotA, plotB, plotC);

// legend for (a)
const legend = document.createElement("div");
legend.className = "legend";
const legendStyles = [
  {stroke: "#000", width: 1.2, dash: null},
  {stroke: "#0000ff", width: 4.5, dash: null},
  {stroke: "#ff0000", width: 4, dash: crossDash}
];
acSeriesNames.forEach((name, i) => {
  const row = document.createElement("div");
  row.className = "row";
  const st = legendStyles[i];
  row.innerHTML = `<svg width="76" height="10"><line x1="0" x2="76" y1="5" y2="5" stroke="${st.stroke}" stroke-width="${st.width}"${st.dash ? ` stroke-dasharray="${st.dash}"` : ""}/></svg><span>${name}</span>`;
  legend.append(row);
});
chart.append(legend);
</script>
</body></html>
